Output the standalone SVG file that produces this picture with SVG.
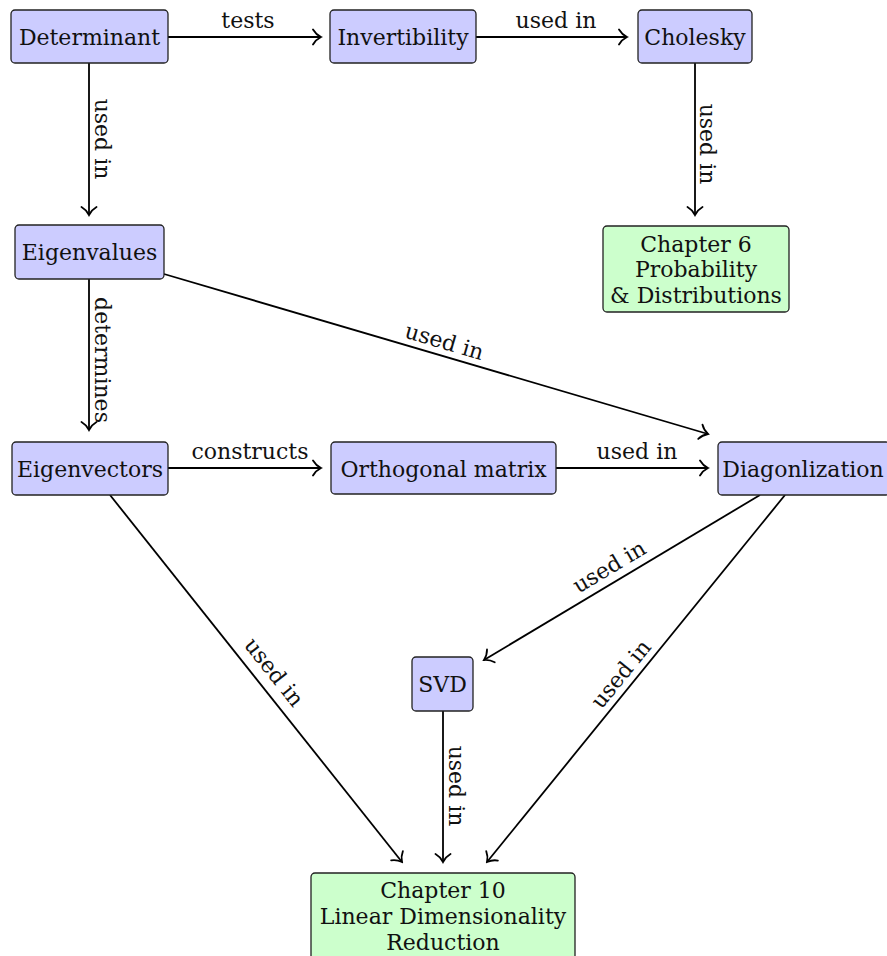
<svg xmlns="http://www.w3.org/2000/svg" width="887" height="956" viewBox="0 0 887 956">
<defs>
<style>
.node rect{stroke:#222;stroke-width:1.3}
.blue rect{fill:#ccccff}
.green rect{fill:#ccffcc}
text{font-family:"DejaVu Serif","Liberation Serif",serif;font-size:22px;fill:#111;text-anchor:middle}
.edges line{stroke:#000;stroke-width:1.8;fill:none;marker-end:url(#arr)}
</style>
<marker id="arr" markerUnits="userSpaceOnUse" viewBox="-10 -10 12 20" refX="0" refY="0" markerWidth="12" markerHeight="20" orient="auto">
<path d="M-8,-7.5 C-6,-4 -2,-1 0,0 C-2,1 -6,4 -8,7.5" fill="none" stroke="#000" stroke-width="1.8" stroke-linecap="round"/>
</marker>
</defs>
<rect width="887" height="956" fill="#fff"/>
<g class="edges">
<line x1="168" y1="37" x2="321" y2="37"/>
<line x1="476" y1="37" x2="627" y2="37"/>
<line x1="89" y1="63" x2="89" y2="215"/>
<line x1="695" y1="63" x2="695" y2="215"/>
<line x1="89" y1="279" x2="89" y2="430"/>
<line x1="164" y1="274" x2="708" y2="434"/>
<line x1="168" y1="468" x2="321" y2="468"/>
<line x1="556" y1="468" x2="708" y2="468"/>
<line x1="760" y1="495" x2="484" y2="660"/>
<line x1="785" y1="495" x2="487" y2="862"/>
<line x1="110" y1="495" x2="402" y2="862"/>
<line x1="443" y1="711" x2="443" y2="862"/>
<text x="248" y="28">tests</text>
<text x="556" y="28">used in</text>
<text transform="translate(95,139) rotate(90)">used in</text>
<text transform="translate(700,144) rotate(90)">used in</text>
<text transform="translate(95,360) rotate(90)">determines</text>
<text x="250" y="459">constructs</text>
<text x="637" y="459">used in</text>
<text transform="translate(444,343) rotate(16.4)" y="6">used in</text>
<text transform="translate(610,568) rotate(-30.8)" y="6">used in</text>
<text transform="translate(622,675) rotate(-50.9)" y="6">used in</text>
<text transform="translate(273,673) rotate(51.5)" y="6">used in</text>
<text transform="translate(449,786) rotate(90)">used in</text>
</g>
<g id="determinant" class="node blue"><rect x="11" y="10" width="157" height="53" rx="4"/><text x="89.5" y="45">Determinant</text></g>
<g id="invertibility" class="node blue"><rect x="330" y="10" width="146" height="53" rx="4"/><text x="403" y="45">Invertibility</text></g>
<g id="cholesky" class="node blue"><rect x="638" y="10" width="114" height="53" rx="4"/><text x="695" y="45">Cholesky</text></g>
<g id="chapter6" class="node green"><rect x="603" y="226" width="186" height="86" rx="4"/><text x="696" y="252">Chapter 6</text><text x="696" y="277">Probability</text><text x="696" y="303">&amp; Distributions</text></g>
<g id="eigenvalues" class="node blue"><rect x="15" y="225" width="149" height="54" rx="4"/><text x="89.5" y="260">Eigenvalues</text></g>
<g id="eigenvectors" class="node blue"><rect x="12" y="442" width="156" height="53" rx="4"/><text x="90" y="477">Eigenvectors</text></g>
<g id="orthogonal" class="node blue"><rect x="331" y="442" width="225" height="52" rx="4"/><text x="443.5" y="477">Orthogonal matrix</text></g>
<g id="diagonlization" class="node blue"><rect x="718" y="442" width="172" height="53" rx="4"/><text x="803" y="477">Diagonlization</text></g>
<g id="svd" class="node blue"><rect x="412" y="657" width="61" height="54" rx="4"/><text x="442.5" y="692">SVD</text></g>
<g id="chapter10" class="node green"><rect x="311" y="873" width="264" height="90" rx="4"/><text x="443" y="898">Chapter 10</text><text x="443" y="924">Linear Dimensionality</text><text x="443" y="950">Reduction</text></g>
</svg>
